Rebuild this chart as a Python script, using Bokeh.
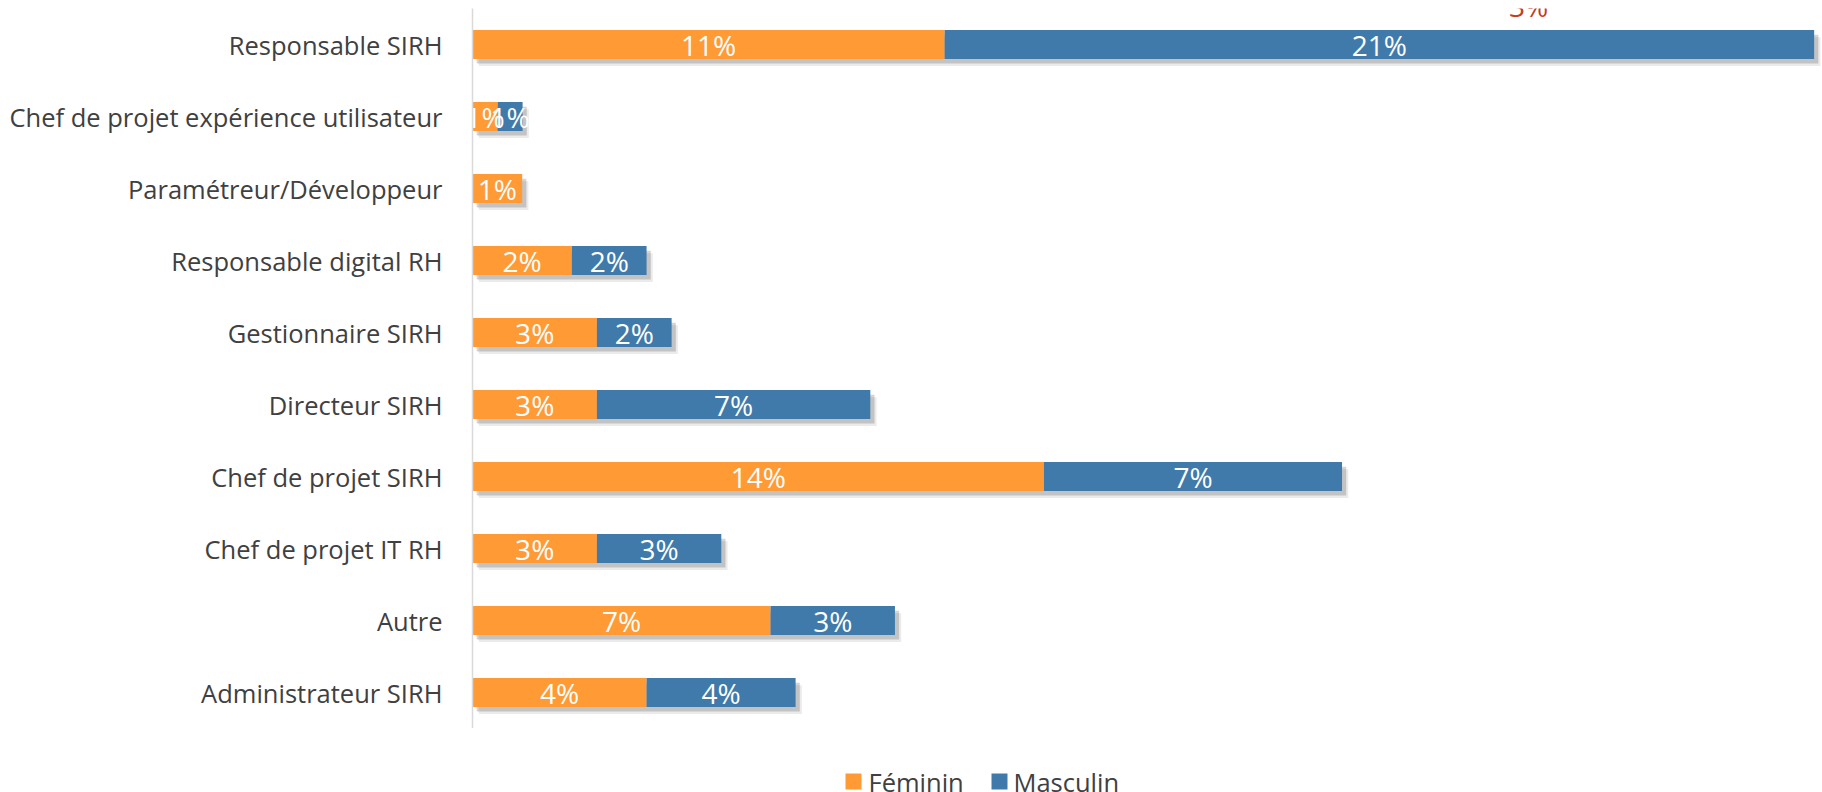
from bokeh.plotting import figure
from bokeh.layouts import column
from bokeh.models import ColumnDataSource, FactorRange, Range1d
from bokeh.transform import dodge
from bokeh.core.properties import value
from bokeh.embed import file_html
from bokeh.resources import INLINE

# Categories, listed from top to bottom as in the chart
categories = [
    "Responsable SIRH",
    "Chef de projet expérience utilisateur",
    "Paramétreur/Développeur",
    "Responsable digital RH",
    "Gestionnaire SIRH",
    "Directeur SIRH",
    "Chef de projet SIRH",
    "Chef de projet IT RH",
    "Autre",
    "Administrateur SIRH",
]
# Shares in percent
feminin = [11.31, 0.60, 1.19, 2.38, 2.98, 2.98, 13.69, 2.98, 7.14, 4.17]
masculin = [20.83, 0.60, 0.0, 1.79, 1.79, 6.55, 7.14, 2.98, 2.98, 3.57]
series_names = ["Féminin", "Masculin"]
# stray red data label shown at the top of the chart
extra_label = ["3%"]
extra_label_x = [25.3]
extra_label_cat = ["Responsable SIRH"]

C_F = "#FF9A35"
C_M = "#3F7AAB"
SERIES_COLORS = [C_F, C_M]
FONT = "Open Sans"
TXT = "#404040"
W = 1822
LEFT = 472

cats = list(reversed(categories))
order = list(reversed(range(len(categories))))
f = [feminin[i] for i in order]
m = [masculin[i] for i in order]

def lab(v):
    return f"{v:.0f}%" if v > 0 else ""

src = ColumnDataSource(dict(
    cat=cats,
    zero=[0.0] * len(cats),
    f_end=f,
    m_end=[a + b for a, b in zip(f, m)],
    f_mid=[a / 2 for a in f],
    m_mid=[a + b / 2 for a, b in zip(f, m)],
    f_lab=[lab(v) for v in f],
    m_lab=[lab(v) for v in m],
    sh1_l=[0.10] * len(cats),
    sh1_r=[a + b + 0.10 for a, b in zip(f, m)],
    sh2_l=[0.15] * len(cats),
    sh2_r=[a + b + 0.15 for a, b in zip(f, m)],
))

p = figure(
    width=W, height=728,
    y_range=FactorRange(*cats, range_padding=0),
    x_range=Range1d(0, 32.34),
    x_axis_location=None,
    output_backend="svg", toolbar_location=None,
    min_border_left=LEFT, min_border_right=0, min_border_top=8, min_border_bottom=0,
)
p.outline_line_color = None
p.xgrid.visible = False
p.ygrid.visible = False
p.background_fill_color = "white"
p.border_fill_color = "white"

ax = p.yaxis[0]
ax.axis_line_color = "#d9d9d9"
ax.axis_line_width = 1.5
ax.major_tick_line_color = None
ax.minor_tick_line_color = None
ax.major_tick_out = 0
ax.major_tick_in = 0
ax.major_label_standoff = 30
ax.major_label_text_font = FONT
ax.major_label_text_font_size = "25.5px"
ax.major_label_text_color = TXT

H = 0.40
# soft drop shadows
p.hbar(y=dodge("cat", -0.10, range=p.y_range), left="sh2_l", right="sh2_r", height=H,
       fill_color="#000000", fill_alpha=0.08, line_color=None, source=src)
p.hbar(y=dodge("cat", -0.065, range=p.y_range), left="sh1_l", right="sh1_r", height=H,
       fill_color="#000000", fill_alpha=0.17, line_color=None, source=src)

p.hbar(y="cat", left="zero", right="f_end", height=H, fill_color=C_F,
       line_color=None, source=src)
p.hbar(y="cat", left="f_end", right="m_end", height=H, fill_color=C_M,
       line_color=None, source=src)

p.text(x="f_mid", y="cat", text="f_lab", text_align="center", text_baseline="middle",
       text_color="white", text_font=value(FONT), text_font_size="28px", source=src)
p.text(x="m_mid", y="cat", text="m_lab", text_align="center", text_baseline="middle",
       text_color="white", text_font=value(FONT), text_font_size="28px", source=src)

esrc = ColumnDataSource(dict(x=extra_label_x, cat=extra_label_cat, t=extra_label))
p.text(x="x", y=dodge("cat", 0.275, range=p.y_range), text="t", text_align="center",
       text_baseline="bottom", text_color="#C43C1E", text_font=value(FONT),
       text_font_size="28px", source=esrc)

# legend strip below the chart (pixel-based coordinates, frame aligned with chart)
LH = 64
lf = figure(
    width=W, height=LH, x_range=Range1d(LEFT, W), y_range=Range1d(LH, 0),
    x_axis_location=None, y_axis_location=None,
    output_backend="svg", toolbar_location=None,
    min_border_left=LEFT, min_border_right=0, min_border_top=0, min_border_bottom=0,
)
lf.outline_line_color = None
lf.xgrid.visible = False
lf.ygrid.visible = False
lf.background_fill_color = "white"
lf.border_fill_color = "white"

leg = ColumnDataSource(dict(
    sx=[853, 999],
    tx=[868, 1013],
    y=[53, 53],
    label=series_names,
    color=SERIES_COLORS,
))
lf.rect(x="sx", y="y", width=16, height=16, width_units="screen", height_units="screen",
        fill_color="color", line_color=None, source=leg)
lf.text(x="tx", y="y", text="label", text_align="left", text_baseline="middle",
        text_color=TXT, text_font=value(FONT), text_font_size="25.5px", source=leg)

layout = column(p, lf, spacing=0)
open("out.html", "w").write(file_html(layout, INLINE))
